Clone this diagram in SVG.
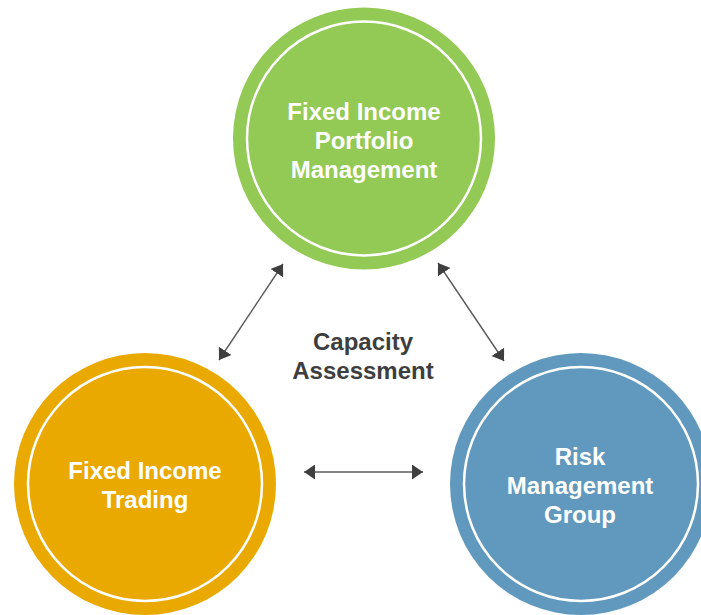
<svg xmlns="http://www.w3.org/2000/svg" width="701" height="615" viewBox="0 0 701 615">
  <style>
    .ring { fill: none; stroke: #ffffff; stroke-width: 2.5; }
    .label { font-family: "Liberation Sans", Arial, sans-serif; font-weight: bold; font-size: 24px; fill: #ffffff; text-anchor: middle; }
    .center { font-family: "Liberation Sans", Arial, sans-serif; font-weight: bold; font-size: 24px; fill: #3e3e40; text-anchor: middle; }
    .conn { stroke: #5a5a5a; stroke-width: 1.4; fill: none; }
  </style>
  <defs>
    <marker id="ah" viewBox="0 0 11 15" refX="11" refY="7.5" markerUnits="userSpaceOnUse" markerWidth="11" markerHeight="15" orient="auto-start-reverse">
      <path d="M0,0 L11,7.5 L0,15 z" fill="#3f3f3f"/>
    </marker>
  </defs>
  <rect width="701" height="615" fill="#ffffff"/>

  <g id="node-portfolio">
    <circle cx="364" cy="138.5" r="131" fill="#93c955"/>
    <circle class="ring" cx="364" cy="138.5" r="117"/>
    <text class="label" x="364" y="120">Fixed Income</text>
    <text class="label" x="364" y="149">Portfolio</text>
    <text class="label" x="364" y="178">Management</text>
  </g>

  <g id="node-trading">
    <circle cx="145" cy="484" r="131" fill="#e9a900"/>
    <circle class="ring" cx="145" cy="484" r="117"/>
    <text class="label" x="145" y="479">Fixed Income</text>
    <text class="label" x="145" y="508">Trading</text>
  </g>

  <g id="node-risk">
    <circle cx="581" cy="484" r="131" fill="#6099bd"/>
    <circle class="ring" cx="581" cy="484" r="117"/>
    <text class="label" x="580" y="465">Risk</text>
    <text class="label" x="580" y="494">Management</text>
    <text class="label" x="580" y="523">Group</text>
  </g>

  <g id="center-label">
    <text class="center" x="363" y="350">Capacity</text>
    <text class="center" x="363" y="379">Assessment</text>
  </g>

  <g id="connectors">
    <line class="conn" x1="219" y1="360" x2="283" y2="264" marker-start="url(#ah)" marker-end="url(#ah)"/>
    <line class="conn" x1="438" y1="263" x2="504" y2="361" marker-start="url(#ah)" marker-end="url(#ah)"/>
    <line class="conn" x1="304" y1="472" x2="423" y2="472" marker-start="url(#ah)" marker-end="url(#ah)"/>
  </g>
</svg>
